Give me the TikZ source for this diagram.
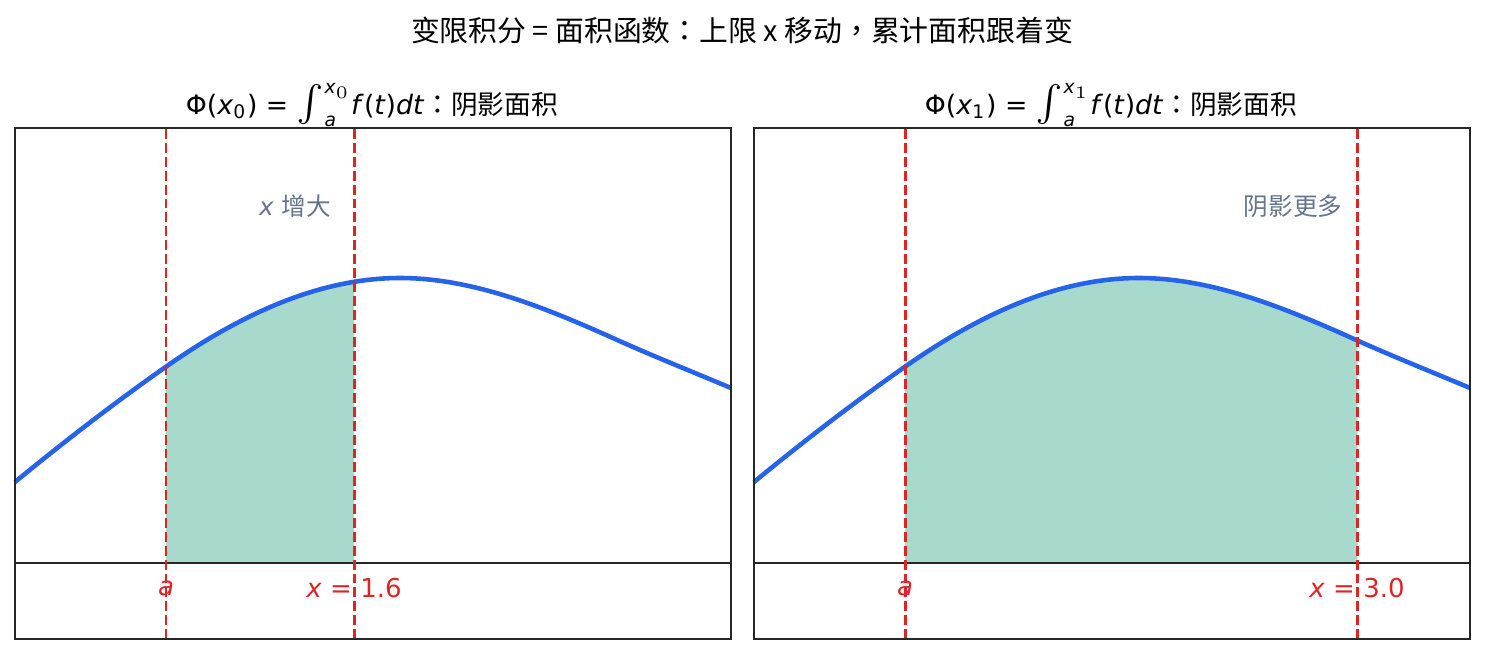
\documentclass[tikz,border=0pt]{standalone}
\usepackage{amsmath}
\usepackage{graphicx}
\usepackage{fontspec}
\setmainfont{DejaVu Sans}
\newfontfamily\cjk{Noto Sans CJK SC}
\newfontfamily\cjkp{Noto Sans CJK TC}
\usepackage{tikz}
\usetikzlibrary{positioning}
\definecolor{curveblue}{HTML}{2563EB}
\definecolor{markred}{HTML}{DC2626}
\definecolor{areagreen}{RGB}{167,218,204}
\definecolor{notegray}{HTML}{64748B}

\begin{document}
\begin{tikzpicture}[x=0.01cm,y=0.01cm,
  frame/.style={draw=black!85,line width=0.6pt},
  bell/.style={curveblue,line width=1.3pt},
  bound/.style={markred,line width=0.85pt,dash pattern=on 2.8pt off 1.15pt},
  bndlabel/.style={text=markred,font=\fontsize{7.4}{9}\selectfont},
  hint/.style={text=notegray,font=\fontsize{7}{8.4}\selectfont},
  paneltitle/.style={font=\fontsize{7.6}{9}\selectfont}]
\useasboundingbox (0,0) rectangle (1485,654);
\node[font=\fontsize{8.2}{10}\selectfont] (suptitle) at (742,624) {\cjk 变限积分 = 面积函数{\cjkp ：}上限 x 移动{\cjkp ，}累计面积跟着变};
% one panel per upper limit
\foreach \px/\xl/\xv/\sub/\nm/\hx/\hnote in {15/339/1.6/0/L/280/{\textit{x} {\cjk 增大}},754/603/3.0/1/R/539/{\cjk 阴影更多}}{
  \begin{scope}[shift={(\px,0)}]
    \begin{scope}
      \clip (151,91) rectangle (\xl,526);
      \fill[areagreen] (0,91) -- (0,172) .. controls (50.7,213.6) and (101.3,252.5) .. (152,288)
        .. controls (229.7,342.4) and (307.3,376) .. (385,376)
        .. controls (456.7,376) and (528.3,347.3) .. (600,315)
        .. controls (638.7,297.6) and (677.3,282.3) .. (716,266) -- (716,91) -- cycle;
    \end{scope}
    \coordinate (base-w-\nm) at (0,91);
    \coordinate (base-e-\nm) at (716,91);
    \draw[frame] (base-w-\nm) -- (base-e-\nm);
    \draw[bell] (0,172) .. controls (50.7,213.6) and (101.3,252.5) .. (152,288)
        .. controls (229.7,342.4) and (307.3,376) .. (385,376)
        .. controls (456.7,376) and (528.3,347.3) .. (600,315)
        .. controls (638.7,297.6) and (677.3,282.3) .. (716,266);
    \node[bndlabel] (a-\nm) at (151,66) {\textit{a}};
    \node[bndlabel] (x-\nm) at (\xl,66) {\textit{x} = \xv};
    \coordinate (a-bot-\nm) at (151,15);
    \coordinate (a-top-\nm) at (151,526);
    \coordinate (x-bot-\nm) at (\xl,15);
    \coordinate (x-top-\nm) at (\xl,526);
    \draw[bound] (a-bot-\nm) -- (a-top-\nm);
    \draw[bound] (x-bot-\nm) -- (x-top-\nm);
    \draw[frame] (0,15) rectangle (716,526);
    \node[hint] (hint-\nm) at (\hx,448) {\hnote};
    \node[paneltitle] (title-\nm) at (357,549) {Φ(\textit{x}\textsubscript{\sub}) = $\mathop{\scalebox{1.35}{$\int$}}\nolimits_{\textit{a}}^{\textit{x}_{\sub}}$\textit{f}(\textit{t})\textit{dt}{\cjkp ：}{\cjk 阴影面积}};
  \end{scope}
}
\end{tikzpicture}
\end{document}
